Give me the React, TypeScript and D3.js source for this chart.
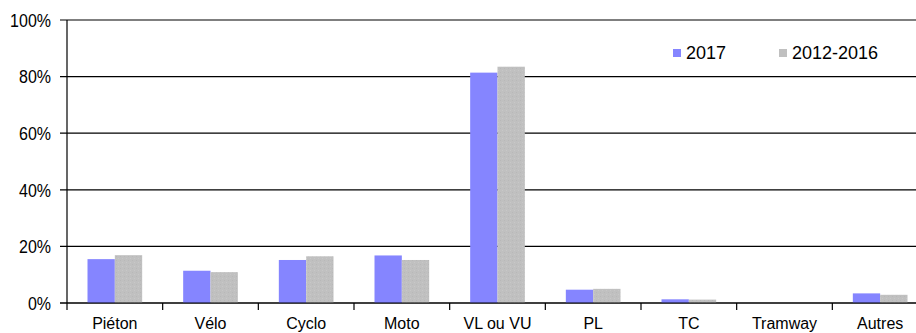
import React from "react";
import * as d3 from "d3";

const categories = ["Piéton", "Vélo", "Cyclo", "Moto", "VL ou VU", "PL", "TC", "Tramway", "Autres"];
const seriesNames = ["2017", "2012-2016"];
const values2017 = [15.5, 11.4, 15.2, 16.8, 81.4, 4.7, 1.3, 0, 3.4];
const values2012 = [16.9, 10.9, 16.5, 15.2, 83.5, 5.0, 1.2, 0, 2.9];
const yTicks = [0, 20, 40, 60, 80, 100];
const colors = ["#8585FF", "#C0C0C0"];

export default function App() {
  const W = 916, H = 333;
  const left = 67, right = 928, top = 20, bottom = 303;
  const x = d3.scaleBand<string>().domain(categories).range([left, right]).paddingInner(0).paddingOuter(0);
  const y = d3.scaleLinear().domain([0, 100]).range([bottom, top]);
  const inner = d3.scaleBand<string>().domain(seriesNames).range([0, x.bandwidth()]).paddingInner(0).paddingOuter(0.75);
  const series = [values2017, values2012];
  const font = "'Liberation Sans', Arial, sans-serif";
  return (
    <svg width={W} height={H} style={{ position: "absolute", left: 0, top: 0, background: "#fff" }}>
      <defs>
        <pattern id="grain" width="4" height="4" patternUnits="userSpaceOnUse">
          <rect width="4" height="4" fill="#C0C0C0" />
          <rect x="0" y="0" width="1" height="1" fill="#B8B8B8" />
          <rect x="2" y="2" width="1" height="1" fill="#C8C8C8" />
        </pattern>
      </defs>
      {yTicks.map((t) => (
        <g key={t}>
          <line x1={60} x2={right} y1={y(t)} y2={y(t)} stroke="#000" strokeWidth={1.2} />
          <text x={51} y={y(t) + 6} textAnchor="end" fontFamily={font} fontSize={16} fill="#000"
            transform={`translate(0 ${y(t)}) scale(1 1.12) translate(0 ${-y(t)})`}>{t}%</text>
        </g>
      ))}
      <line x1={left} x2={left} y1={top} y2={bottom} stroke="#000" strokeWidth={1.2} />
      {categories.map((c, i) => (
        <g key={c}>
          {series.map((s, j) => (
            <rect key={j} x={(x(c) as number) + (inner(seriesNames[j]) as number)} y={y(s[i])}
              width={inner.bandwidth()} height={bottom - y(s[i])} fill={j === 1 ? "url(#grain)" : colors[0]} />
          ))}
          <line x1={(x(c) as number) + x.bandwidth()} x2={(x(c) as number) + x.bandwidth()} y1={bottom} y2={bottom + 7} stroke="#000" strokeWidth={1.2} />
          <text x={(x(c) as number) + x.bandwidth() / 2} y={329} textAnchor="middle" fontFamily={font} fontSize={16} fill="#000">{c}</text>
        </g>
      ))}
      <line x1={left} x2={left} y1={bottom} y2={bottom + 7} stroke="#000" strokeWidth={1.2} />
      <line x1={60} x2={right} y1={bottom} y2={bottom} stroke="#000" strokeWidth={1.2} />
      {seriesNames.map((n, j) => {
        const lx = [673, 779][j];
        return (
          <g key={n}>
            <rect x={lx} y={49} width={8} height={8} fill={colors[j]} />
            <text x={lx + 13} y={59} fontFamily={font} fontSize={18} fill="#000">{n}</text>
          </g>
        );
      })}
    </svg>
  );
}
